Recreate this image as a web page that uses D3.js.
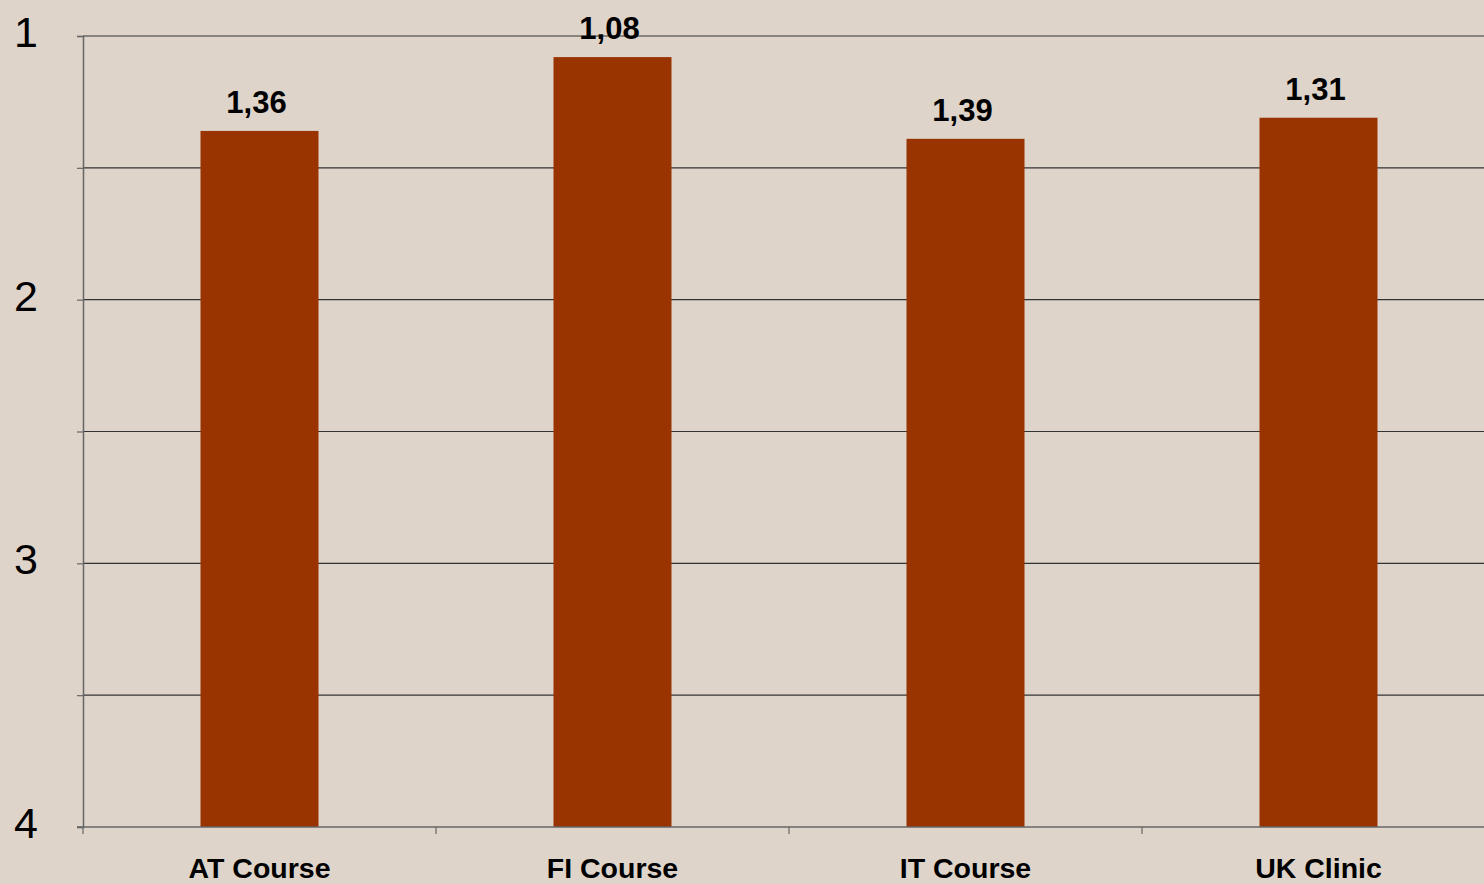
<!DOCTYPE html>
<html>
<head>
<meta charset="utf-8">
<script src="https://cdn.jsdelivr.net/npm/d3@7/dist/d3.min.js"></script>
<style>
  html, body { margin: 0; padding: 0; background: #DED4CA; }
  svg { display: block; }
  text { font-family: Arial, "Liberation Sans", sans-serif; }
</style>
</head>
<body>
<svg id="chart" width="1484" height="884"></svg>
<script>
// Mean scores per site (1 = best, shown at the top)
const categories = ["AT Course", "FI Course", "IT Course", "UK Clinic"];
const values = [1.36, 1.08, 1.39, 1.31];
const valueLabels = ["1,36", "1,08", "1,39", "1,31"];
const yTicks = [1, 2, 3, 4];
const yGrid = [1, 1.5, 2, 2.5, 3, 3.5, 4];

(function () {
  const svg = d3.select("#chart");
  const plotLeft = 83, plotRight = 1495, plotTop = 36, plotBottom = 827;

  svg.append("rect").attr("width", 1484).attr("height", 884).attr("fill", "#DED4CA");

  const x = d3.scaleBand().domain(categories).range([plotLeft, plotRight]).paddingInner(0).paddingOuter(0);
  const y = d3.scaleLinear().domain([1, 4]).range([plotTop, plotBottom]);

  // gridlines
  svg.append("g").selectAll("line").data(yGrid.slice(0, -1)).join("line")
    .attr("x1", plotLeft).attr("x2", 1484)
    .attr("y1", d => y(d)).attr("y2", d => y(d))
    .attr("stroke", "#333").attr("stroke-width", 1.2);

  // bars grow from the bottom value (4) up to the score
  const barW = 118;
  svg.append("g").selectAll("rect").data(categories).join("rect")
    .attr("x", d => x(d) + x.bandwidth() / 2 - barW / 2)
    .attr("width", barW)
    .attr("y", (d, i) => y(values[i]))
    .attr("height", (d, i) => y(4) - y(values[i]))
    .attr("fill", "#993300");

  // y axis
  const yAxis = d3.axisLeft(y).tickValues(yGrid).tickSize(6).tickFormat("");
  const gy = svg.append("g").attr("transform", `translate(${plotLeft},0)`).call(yAxis);
  gy.select(".domain").attr("stroke", "#666").attr("stroke-width", 1.5);
  gy.selectAll(".tick line").attr("stroke", "#666").attr("stroke-width", 1.2);

  svg.append("g").selectAll("text").data(yTicks).join("text")
    .attr("x", 26).attr("y", d => y(d) + 11)
    .attr("text-anchor", "middle")
    .attr("font-size", 43).attr("fill", "#000")
    .text(d => d);

  // x axis
  const gx = svg.append("g").attr("transform", `translate(0,${plotBottom})`);
  gx.append("line").attr("x1", plotLeft - 6).attr("x2", 1484).attr("stroke", "#666").attr("stroke-width", 1.5);
  gx.selectAll("line.tk").data(categories).join("line").attr("class", "tk")
    .attr("x1", d => x(d)).attr("x2", d => x(d)).attr("y1", 0).attr("y2", 7)
    .attr("stroke", "#666").attr("stroke-width", 1.2);
  gx.selectAll("text").data(categories).join("text")
    .attr("x", d => x(d) + x.bandwidth() / 2)
    .attr("y", 51)
    .attr("text-anchor", "middle")
    .attr("font-size", 28.5).attr("font-weight", "bold").attr("fill", "#000")
    .text(d => d);

  // value labels above each bar
  svg.append("g").selectAll("text").data(categories).join("text")
    .attr("x", d => x(d) + x.bandwidth() / 2 - 3)
    .attr("y", (d, i) => y(values[i]) - 18)
    .attr("text-anchor", "middle")
    .attr("font-size", 31).attr("font-weight", "bold").attr("fill", "#000")
    .text((d, i) => valueLabels[i]);
})();
</script>
</body>
</html>
